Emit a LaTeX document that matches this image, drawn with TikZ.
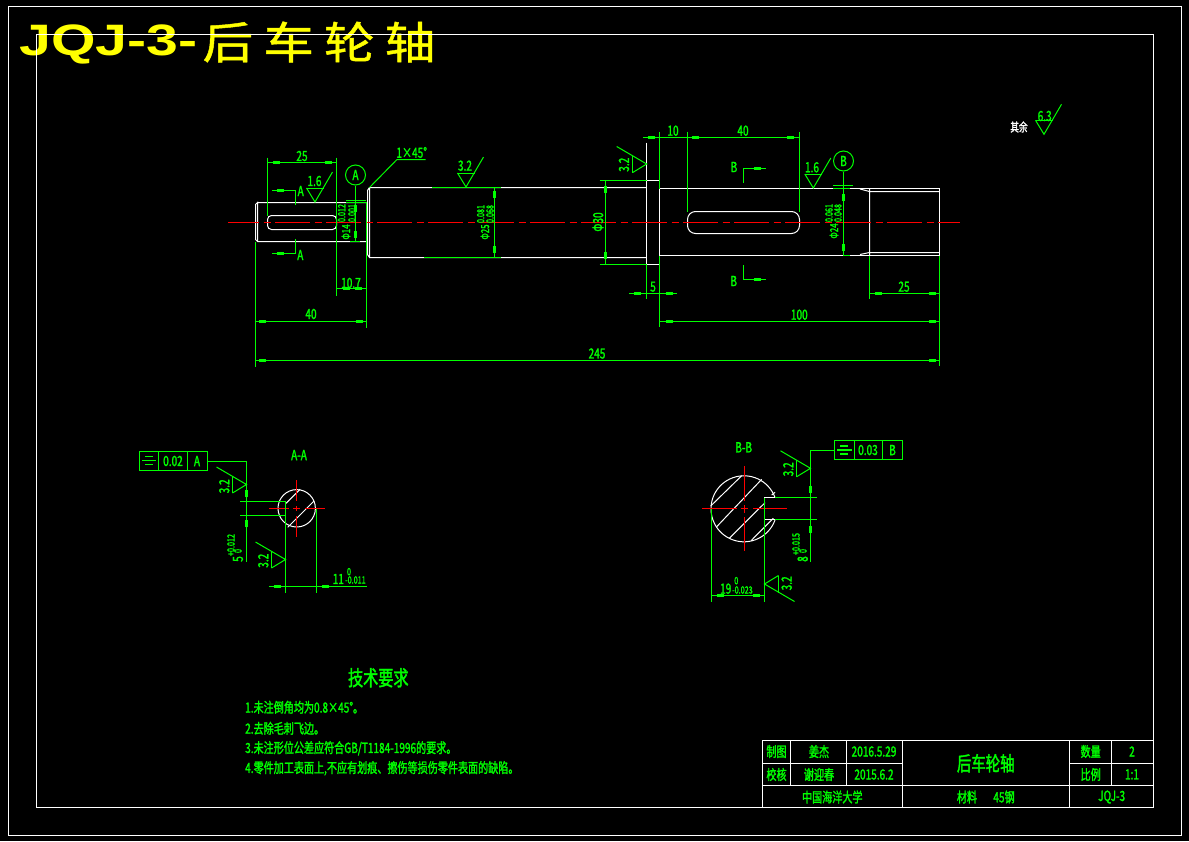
\documentclass[tikz,border=0pt]{standalone}
\usepackage{fontspec}
\newfontfamily\cadfont[FakeStretch=0.72,FakeBold=1.6]{Noto Sans CJK SC}
\newfontfamily\headfont[FakeStretch=1.3]{Liberation Sans Bold}
\newfontfamily\headcjk[FakeStretch=1.15,LetterSpace=23,FakeBold=1]{Noto Sans CJK SC}
\usetikzlibrary{positioning}
\definecolor{cadgreen}{RGB}{0,255,0}
\definecolor{cadred}{RGB}{255,0,0}
\definecolor{cadyellow}{RGB}{255,255,0}
\tikzset{
	part/.style={draw=white,line width=1pt},
	thinl/.style={draw=cadgreen,line width=1pt},
	axisl/.style={draw=cadred,line width=1.6pt},
	blobh/.style={draw=cadgreen,line width=3.6pt},
	lab/.style={text=cadgreen,inner sep=0pt,font=\cadfont\fontsize{14}{14}\selectfont},
	tol/.style={lab,rotate=90,font=\cadfont\fontsize{10}{10}\selectfont},
	sid/.style={lab,rotate=90},
	datum/.style={circle,draw=cadgreen,line width=1pt,minimum size=20pt,lab},
	rough/.pic={
		\draw[thinl] (-8.5,-14) -- (0,0) -- (17.5,-30);
		\draw[thinl] (-8.5,-14) -- (8.5,-14);
	}
}
\begin{document}
\begin{tikzpicture}[x=1pt,y=-1pt]
	\fill[black] (0,0) rectangle (1189,841);
	\useasboundingbox (0,0) rectangle (1189,841);
	%
	\node[anchor=west,inner sep=0pt,text=cadyellow,font=\headfont\fontsize{44}{44}\selectfont] (head) at (19,44) {JQJ-3-};
	\node[right=5pt of head,inner sep=0pt,yshift=2pt,text=cadyellow,font=\headcjk\fontsize{44}{44}\selectfont] (headzh) {后车轮轴};
	%
	\draw[part] (8.5,6.5) rectangle (1181.5,835.5);
	\draw[part] (36.5,34.5) rectangle (1153.5,807.5);
	%
	% title block
	\draw[part] (762.5,740.5) rectangle (1153.5,807.5);
	\draw[part] (762.5,763.5) -- (902.5,763.5) (1069.5,763.5) -- (1153.5,763.5) (762.5,785.5) -- (1153.5,785.5);
	\draw[part] (790.5,740.5) -- (790.5,785.5) (846.5,740.5) -- (846.5,785.5)
		(902.5,740.5) -- (902.5,807.5) (1069.5,740.5) -- (1069.5,807.5)
		(1111.5,740.5) -- (1111.5,785.5);
	\node[lab] (t1) at (776.5,751.5) {制图};
	\node[lab] (t2) at (819,751.5) {姜杰};
	\node[lab] (t3) at (874,751.5) {2016.5.29};
	\node[lab] (t4) at (776.5,774.5) {校核};
	\node[lab] (t5) at (819,774.5) {谢迎春};
	\node[lab] (t6) at (874,774.5) {2015.6.2};
	\node[lab,font=\cadfont\fontsize{20}{20}\selectfont] (t7) at (985.7,763.3) {后车轮轴};
	\node[lab] (t8) at (1090.7,751.5) {数量};
	\node[lab] (t9) at (1132,751.5) {2};
	\node[lab] (t10) at (1090.7,774.5) {比例};
	\node[lab] (t11) at (1132,774.5) {1:1};
	\node[lab] (t12) at (832.3,797) {中国海洋大学};
	\node[lab] (t13) at (967,797) {材料};
	\node[lab] (t14) at (1004,797) {45钢};
	\node[lab] (t15) at (1111.7,797) {JQJ-3};
	%
	% requirements
	\node[lab,font=\cadfont\fontsize{21}{21}\selectfont] (req) at (378.3,677.7) {技术要求};
	\node[lab,anchor=west] (req1) at (245,707.3) {1.未注倒角均为0.8×45°。};
	\node[lab,anchor=west] (req2) at (245,728.3) {2.去除毛刺飞边。};
	\node[lab,anchor=west] (req3) at (245,748.3) {3.未注形位公差应符合GB/T1184-1996的要求。};
	\node[lab,anchor=west] (req4) at (245,768.3) {4.零件加工表面上,不应有划痕、擦伤等损伤零件表面的缺陷。};
	%
	% shaft
	\draw[part] (257.5,202.5) -- (366.5,202.5) (255.5,204.5) -- (255.5,239.5) -- (257.5,241.5) -- (366.5,241.5)
		(255.5,204.5) -- (257.5,202.5) -- (257.5,241.5);
	\draw[part,rounded corners=4pt] (267.5,215.5) rectangle (336.5,229.5);
	\draw[part] (366.5,202.5) -- (366.5,241.5) (367.5,190.5) -- (369.5,187.5) -- (646.5,187.5)
		(367.5,190.5) -- (367.5,254.5) -- (369.5,257.5) -- (646.5,257.5) (369.5,187.5) -- (369.5,257.5);
	\draw[part] (646.5,142.5) -- (646.5,264.5) -- (659.5,264.5) -- (659.5,180.5) -- (646.5,180.5);
	\draw[part] (659.5,188.5) -- (939.5,188.5) -- (939.5,255.5) -- (659.5,255.5);
	\draw[part,rounded corners=8pt] (687.5,211.5) rectangle (799.5,233.5);
	\draw[part] (860,189) -- (869.5,191.5) -- (939.5,191.5) (860,254.5) -- (869.5,252.5) -- (939.5,252.5)
		(869.5,188.5) -- (869.5,255.5);
	\draw[axisl,dash pattern=on 35pt off 4.5pt on 7pt off 4.5pt,dash phase=4pt] (228,222.5) -- (960,222.5);
	%
	% extension lines of the shaft
	\draw[thinl] (267.5,157.5) -- (267.5,215.5) (336.5,157.5) -- (336.5,295.5) (366.5,202.5) -- (366.5,327.5)
		(255.5,241.5) -- (255.5,366.5) (659.5,131.5) -- (659.5,188.5) (687.5,131.5) -- (687.5,211.5)
		(799.5,131.5) -- (799.5,211.5) (646.5,264.5) -- (646.5,298.5) (659.5,255.5) -- (659.5,326.5)
		(869.5,255.5) -- (869.5,298.5) (939.5,255.5) -- (939.5,365.5);
	\draw[thinl] (599.5,180.5) -- (646.5,180.5) (599.5,264.5) -- (646.5,264.5)
		(432,187.5) -- (501,187.5) (424,257.5) -- (501,257.5) (346,202.5) -- (366.5,202.5)
		(350,241.5) -- (360,241.5) (833,188.5) -- (850,188.5) (843,255.5) -- (850,255.5);
	%
	% dimension lines
	\draw[thinl] (267.5,162.5) -- (336.5,162.5) (336.5,288.5) -- (366.5,288.5) (255.5,321.5) -- (366.5,321.5)
		(255.5,360.5) -- (939.5,360.5) (643,137.5) -- (799.5,137.5) (629,293.5) -- (677,293.5)
		(869.5,293.5) -- (939.5,293.5) (659.5,321.5) -- (939.5,321.5)
		(494.5,187.5) -- (494.5,257.5) (843.5,188.5) -- (843.5,255.5) (605.5,180.5) -- (605.5,264.5);
	\foreach \bx/\by in {273/162.5,325/162.5,343/288.5,355/288.5,259/321.5,356/321.5,259/360.5,929/360.5,
		277/190.5,277/253.5,648/137.5,692/137.5,787/137.5,754/168.5,754/279.5,634/293.5,666/293.5,
		875/293.5,929/293.5,666/321.5,929/321.5,274/586.5,322/586.5,717/595.5,753/595.5}
		\draw[blobh] (\bx,\by) -- ++(6.5,0);
	\foreach \bx/\by in {355.5/205,355.5/231,494.5/191,494.5/246,843.5/194,843.5/244,605.5/186,605.5/252,
		246.5/490,246.5/520,810.5/486,810.5/526}
		\draw[blobh] (\bx,\by) -- ++(0,6.5);
	%
	\node[lab] (d25) at (302,156) {25};
	\node[lab] (d107) at (351,283) {10.7};
	\node[lab] (d40) at (311,314) {40};
	\node[lab] (d245) at (597,353.5) {245};
	\node[lab] (d10) at (673,130.7) {10};
	\node[lab] (d40b) at (743,130.7) {40};
	\node[lab] (d5) at (653,286.7) {5};
	\node[lab] (d25b) at (904,286.7) {25};
	\node[lab] (d100) at (799.3,314.7) {100};
	\node[sid] (dia30) at (598,222) {Φ30};
	\node[sid,font=\cadfont\fontsize{11}{11}\selectfont] (dia14) at (346,232) {Φ14};
	\node[tol] (t14a) at (341.7,213) {0.012};
	\node[tol] (t14b) at (352,213) {0.001};
	\node[sid,font=\cadfont\fontsize{11}{11}\selectfont] (dia25) at (485,232) {Φ25};
	\node[tol] (t25a) at (480.7,214) {0.081};
	\node[tol] (t25b) at (490,214) {0.068};
	\node[sid,font=\cadfont\fontsize{11}{11}\selectfont] (dia24) at (834,231) {Φ24};
	\node[tol] (t24a) at (829,213) {0.061};
	\node[tol] (t24b) at (838,213) {0.048};
	%
	% chamfer note
	\coordinate (cham) at (369.5,187.5);
	\draw[thinl] (cham) -- (397,159.5) -- (425.7,159.5);
	\node[lab] (c45) at (411.7,152.5) {1×45°};
	%
	% datum marks
	\node[datum] (dA) at (355.5,175) {A};
	\node[datum] (dB) at (843.5,161) {B};
	\draw[thinl] (dA) -- (355.5,241.5) (346,200.5) -- (366,200.5);
	\draw[thinl] (dB) -- (843.5,188.5) (833,185.5) -- (853,185.5);
	%
	% section marks
	\draw[thinl] (272,190.5) -- (295.5,190.5) -- (295.5,205) (272,253.5) -- (295.5,253.5) -- (295.5,239);
	\node[lab] (secA1) at (300.7,191) {A};
	\node[lab] (secA2) at (300.3,255) {A};
	\draw[thinl] (743.5,182.7) -- (743.5,168.5) -- (765.7,168.5) (743.5,265) -- (743.5,279.5) -- (765.7,279.5);
	\node[lab] (secB1) at (734,167) {B};
	\node[lab] (secB2) at (733.7,281) {B};
	%
	% surface finish
	\pic at (315,202) {rough};
	\pic at (466,187) {rough};
	\pic at (813.3,188) {rough};
	\pic at (1044,134.3) {rough};
	\pic[rotate=90] at (646.7,164) {rough};
	\pic[rotate=90] at (246.5,484.5) {rough};
	\pic[rotate=90] at (285.5,559.5) {rough};
	\pic[rotate=90] at (810.5,468.3) {rough};
	\pic[rotate=-90] at (764.5,584) {rough};
	\node[lab] (ra1) at (314.5,181) {1.6};
	\node[lab] (ra2) at (465,165.7) {3.2};
	\node[lab] (ra3) at (812,167.3) {1.6};
	\node[lab] (ra4) at (1044.7,116) {6.3};
	\node[sid] (ra5) at (624,164.7) {3.2};
	\node[sid] (ra6) at (224.3,486.3) {3.2};
	\node[sid] (ra7) at (263.3,560.7) {3.2};
	\node[sid] (ra8) at (788.3,469.3) {3.2};
	\node[sid] (ra9) at (786.7,583.3) {3.2};
	\node[lab,text=white,font=\cadfont\fontsize{12}{12}\selectfont] (rest) at (1019,127) {其余};
	%
	% section A-A
	\node[lab] (viewA) at (299,455) {A-A};
	\draw[part] (296.7,508.3) circle (18.7);
	\draw[part] (286,503.3) -- (300,489.3) (287.7,527.3) -- (314,501);
	\draw[axisl] (269,508.5) -- (289,508.5) (293.3,508.5) -- (300,508.5) (305,508.5) -- (325,508.5)
		(296.5,480) -- (296.5,500.7) (296.5,506) -- (296.5,511.3) (296.5,516) -- (296.5,536.7);
	\draw[thinl] (240,501.5) -- (285.5,501.5) -- (285.5,592.5) (240,515.5) -- (285.5,515.5)
		(316.5,508.5) -- (316.5,592.5) (269,586.5) -- (367,586.5);
	\draw[thinl] (139.5,451.5) rectangle (207.5,470.5);
	\draw[thinl] (158.5,451.5) -- (158.5,470.5) (187.5,451.5) -- (187.5,470.5);
	\draw[thinl] (207.5,461.5) -- (246.5,461.5) -- (246.5,561.5);
	\draw[thinl,line width=1.5pt] (142,460.7) -- (156,460.7) (145,456.7) -- (153,456.7) (145,464.7) -- (153,464.7);
	\node[lab] (fa1) at (173,461) {0.02};
	\node[lab] (fa2) at (197,461) {A};
	\node[sid] (w5) at (238,559) {5};
	\node[tol] (w5a) at (231,545) {+0.012};
	\node[tol] (w5b) at (238,551) {0};
	\node[lab] (w11) at (338.3,579) {11};
	\node[lab,font=\cadfont\fontsize{10}{10}\selectfont] (w11a) at (349,571.7) {0};
	\node[lab,font=\cadfont\fontsize{10}{10}\selectfont,anchor=west] (w11b) at (345,580) {-0.011};
	%
	% section B-B
	\node[lab] (viewB) at (743.7,447.3) {B-B};
	\draw[part] (775,497.5) arc[start angle=-20,end angle=-340,radius=33];
	\draw[part] (775,497.5) -- (764.5,497.5) -- (764.5,519.5) -- (775,519.5);
	\draw[part] (710.7,506) -- (741.7,475.7) (716.7,526.7) -- (761.7,479.3)
		(729.3,538.3) -- (765,502.7) (751,540.7) -- (773.3,518.3) (771.7,495) -- (775,492.3);
	\draw[axisl] (702,508.5) -- (736.7,508.5) (740.7,508.5) -- (748.3,508.5) (753.3,508.5) -- (786.7,508.5)
		(744.5,466) -- (744.5,500.7) (744.5,505) -- (744.5,513) (744.5,517.3) -- (744.5,550.7);
	\draw[thinl] (775,497.5) -- (817,497.5) (775,519.5) -- (817,519.5);
	\draw[thinl] (764.5,497.5) -- (764.5,601.5) (711.5,508.5) -- (711.5,601.5) (711.5,595.5) -- (764.5,595.5);
	\draw[thinl] (834.5,440.5) rectangle (902.5,459.5);
	\draw[thinl] (854.5,440.5) -- (854.5,459.5) (882.5,440.5) -- (882.5,459.5);
	\draw[thinl] (834.5,450.5) -- (810.5,450.5) -- (810.5,561.5);
	\draw[thinl,line width=1.5pt] (837,450) -- (851.7,450) (840,446) -- (848,446) (840,454) -- (848,454);
	\node[lab] (fb1) at (868,450) {0.03};
	\node[lab] (fb2) at (892.5,450) {B};
	\node[sid] (w8) at (802.7,559) {8};
	\node[tol] (w8a) at (796,544) {+0.015};
	\node[tol] (w8b) at (803,551) {0};
	\node[lab] (w19) at (725.7,588.7) {19};
	\node[lab,font=\cadfont\fontsize{10}{10}\selectfont] (w19a) at (736.3,580.7) {0};
	\node[lab,font=\cadfont\fontsize{10}{10}\selectfont,anchor=west] (w19b) at (732,590) {-0.023};
\end{tikzpicture}
\end{document}
